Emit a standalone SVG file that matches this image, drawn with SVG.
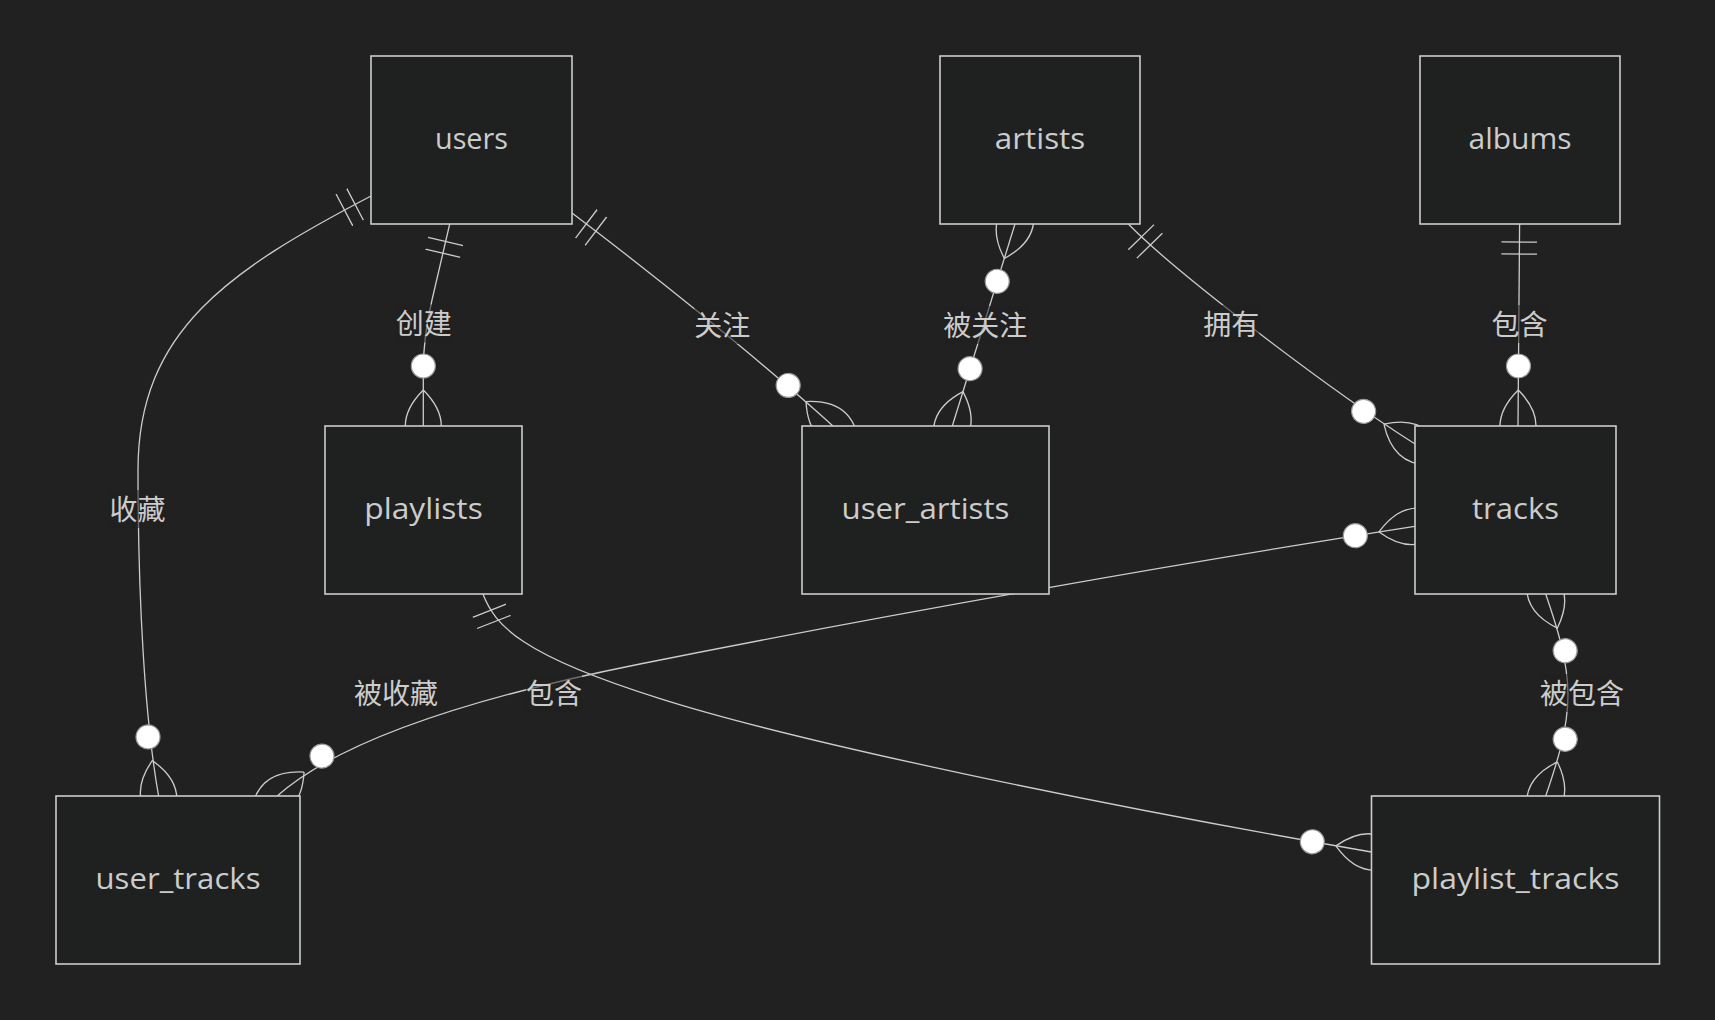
<svg xmlns="http://www.w3.org/2000/svg" width="1715" height="1020" viewBox="0 0 1715 1020">
  <style>
    .bg { fill: #212121; }
    .node rect { fill: #1f2020; stroke: #cccccc; stroke-width: 1.6; }
    .node text { fill: #cccccc; font-family: "Open Sans", "Liberation Sans", sans-serif; font-size: 29px; text-anchor: middle; }
    .edge { fill: none; stroke: #cccccc; stroke-width: 1.3; }
    .lbl rect { fill: #212121; fill-opacity: 0.55; }
    .lbl text { fill: #cccccc; font-family: "Noto Sans CJK SC", "Noto Sans", sans-serif; font-size: 28px; text-anchor: middle; }
    .mk { fill: none; stroke: #cccccc; stroke-width: 0.65; }
    .dot { fill: #ffffff; stroke: #999999; stroke-width: 0.6; }
  </style>
  <defs>
    <marker id="oneStart" markerUnits="userSpaceOnUse" viewBox="0 0 18 18" markerWidth="36" markerHeight="36" refX="0" refY="9" orient="auto">
      <path class="mk" d="M9,0 L9,18 M15,0 L15,18"/>
    </marker>
    <marker id="zmStart" markerUnits="userSpaceOnUse" viewBox="0 0 57 36" markerWidth="114" markerHeight="72" refX="18" refY="18" orient="auto">
      <path class="mk" d="M0,18 Q18,0 36,18 Q18,36 0,18"/>
      <circle class="dot" cx="48" cy="18" r="6"/>
    </marker>
    <marker id="zmEnd" markerUnits="userSpaceOnUse" viewBox="0 0 57 36" markerWidth="114" markerHeight="72" refX="39" refY="18" orient="auto">
      <path class="mk" d="M21,18 Q39,0 57,18 Q39,36 21,18"/>
      <circle class="dot" cx="9" cy="18" r="6"/>
    </marker>
  </defs>
  <rect class="bg" x="0" y="0" width="1715" height="1020"/>

  <g id="connectors">
    <path id="e-users-user_tracks" class="edge" d="M371,196 C 230,270 138,330 138,470 C 138,600 145,720 158.6,796" marker-start="url(#oneStart)" marker-end="url(#zmEnd)"/>
    <path id="e-users-playlists" class="edge" d="M449.7,224 L432,300 Q423.3,337 423.3,370 L423.3,426" marker-start="url(#oneStart)" marker-end="url(#zmEnd)"/>
    <path id="e-users-user_artists" class="edge" d="M572,213 C 650,272 760,360 832.7,425.7" marker-start="url(#oneStart)" marker-end="url(#zmEnd)"/>
    <path id="e-artists-user_artists" class="edge" d="M1015,224 L952.3,426" marker-start="url(#zmStart)" marker-end="url(#zmEnd)"/>
    <path id="e-artists-tracks" class="edge" d="M1128.6,224.3 C 1175,272 1330,390 1414.3,443.5" marker-start="url(#oneStart)" marker-end="url(#zmEnd)"/>
    <path id="e-albums-tracks" class="edge" d="M1519.6,224 L1518,426" marker-start="url(#oneStart)" marker-end="url(#zmEnd)"/>
    <path id="e-tracks-user_tracks" class="edge" d="M1414.6,526.4 C 1200,560 900,612 640,664 C 470,698 340,740 277.2,796" marker-start="url(#zmStart)" marker-end="url(#zmEnd)"/>
    <path id="e-playlists-playlist_tracks" class="edge" d="M482.9,594 C 495,625 520,655 660,698.6 C 800,743 1100,805 1371.4,852" marker-start="url(#oneStart)" marker-end="url(#zmEnd)"/>
    <path id="e-tracks-playlist_tracks" class="edge" d="M1545.7,594 C 1556,624 1568,660 1568,695 C 1568,730 1556,766 1545.7,796" marker-start="url(#zmStart)" marker-end="url(#zmEnd)"/>

    <g class="lbl"><rect x="395.7" y="304.5" width="56" height="38"/><text x="423.7" y="334">创建</text></g>
    <g class="lbl"><rect x="694.3" y="306" width="56" height="38"/><text x="722.3" y="335.5">关注</text></g>
    <g class="lbl"><rect x="943.2" y="306" width="84" height="38"/><text x="985.2" y="335.5">被关注</text></g>
    <g class="lbl"><rect x="1203.3" y="305" width="56" height="38"/><text x="1231.3" y="334.5">拥有</text></g>
    <g class="lbl"><rect x="1491.6" y="305" width="56" height="38"/><text x="1519.6" y="334.5">包含</text></g>
    <g class="lbl"><rect x="109.5" y="490" width="56" height="38"/><text x="137.5" y="519.5">收藏</text></g>
    <g class="lbl"><rect x="353.9" y="674" width="84" height="38"/><text x="395.9" y="703.5">被收藏</text></g>
    <g class="lbl"><rect x="526" y="674" width="56" height="38"/><text x="554" y="703.5">包含</text></g>
    <g class="lbl"><rect x="1540" y="674" width="84" height="38"/><text x="1582" y="703.5">被包含</text></g>
  </g>

  <g id="users" class="node"><rect x="371" y="56" width="201" height="168"/><text x="471.5" y="149" textLength="73" lengthAdjust="spacingAndGlyphs">users</text></g>
  <g id="artists" class="node"><rect x="940" y="56" width="200" height="168"/><text x="1040" y="149" textLength="90.5" lengthAdjust="spacingAndGlyphs">artists</text></g>
  <g id="albums" class="node"><rect x="1420" y="56" width="200" height="168"/><text x="1520" y="149" textLength="103" lengthAdjust="spacingAndGlyphs">albums</text></g>
  <g id="playlists" class="node"><rect x="325" y="426" width="197" height="168"/><text x="423.5" y="519" textLength="118.5" lengthAdjust="spacingAndGlyphs">playlists</text></g>
  <g id="user_artists" class="node"><rect x="802" y="426" width="247" height="168"/><text x="925.5" y="519" textLength="168" lengthAdjust="spacingAndGlyphs">user_artists</text></g>
  <g id="tracks" class="node"><rect x="1415" y="426" width="201" height="168"/><text x="1515.5" y="519" textLength="87" lengthAdjust="spacingAndGlyphs">tracks</text></g>
  <g id="user_tracks" class="node"><rect x="56" y="796" width="244" height="168"/><text x="178" y="889" textLength="165" lengthAdjust="spacingAndGlyphs">user_tracks</text></g>
  <g id="playlist_tracks" class="node"><rect x="1371.5" y="796" width="288" height="168"/><text x="1515.5" y="889" textLength="208" lengthAdjust="spacingAndGlyphs">playlist_tracks</text></g>
</svg>
